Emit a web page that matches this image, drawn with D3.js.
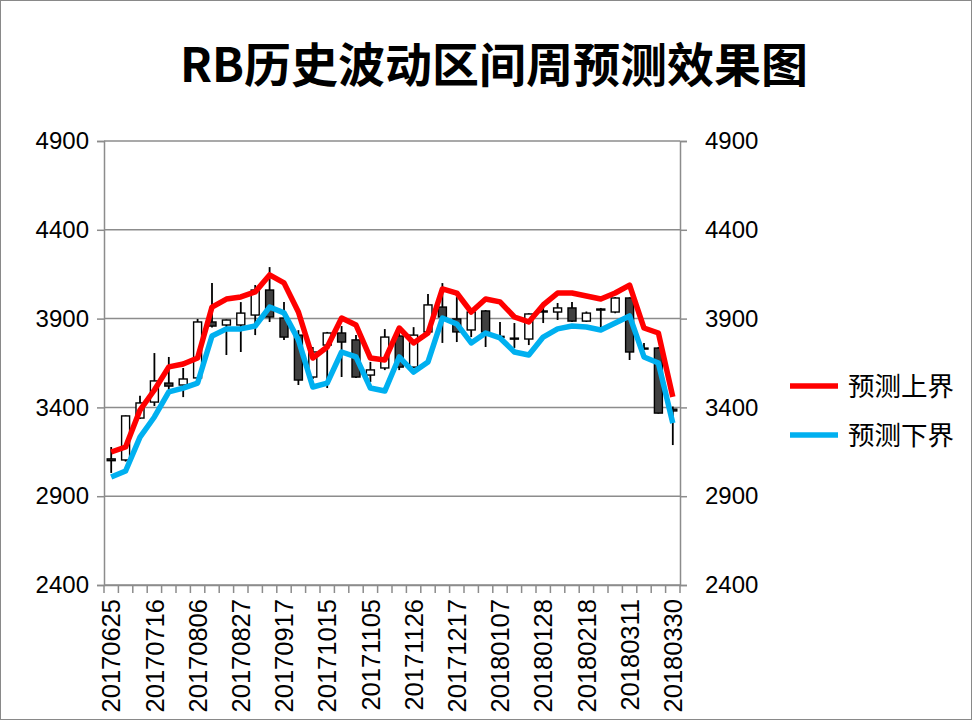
<!DOCTYPE html>
<html><head><meta charset="utf-8">
<script src="https://cdn.jsdelivr.net/npm/d3@7/dist/d3.min.js"></script>
<style>body{margin:0;background:#fff}svg{display:block}</style>
</head><body>
<svg id="c" width="973" height="721"></svg>
<script>
const dates = ["20170625","20170702","20170709","20170716","20170723","20170730","20170806","20170813","20170820","20170827",
"20170903","20170910","20170917","20170924","20171008","20171015","20171022","20171029","20171105","20171112",
"20171119","20171126","20171203","20171210","20171217","20171224","20171231","20180107","20180114","20180121",
"20180128","20180204","20180211","20180218","20180225","20180304","20180311","20180318","20180325","20180330"];
const openV  = [3110,3104,3340,3430,3537,3526,3566,3881,3864,3864,3920,4061,3903,3807,3571,3751,3819,3780,3582,3622,3802,3627,3825,3965,3898,3836,3943,3800,3790,3785,3943,3937,3960,3886,3954,3937,4016,3734,3734,3390];
const highV  = [3177,3355,3465,3706,3684,3622,3898,4100,3895,3993,4089,4190,3993,3835,3740,3825,3858,3807,3656,3841,3858,3852,4038,4100,4021,3945,3948,3881,3875,3930,3993,3988,3993,3940,3960,4021,4020,3763,3740,3405];
const lowV   = [3031,3095,3335,3408,3470,3458,3560,3850,3695,3712,3807,3881,3780,3526,3560,3509,3571,3566,3543,3610,3610,3622,3820,3763,3768,3796,3740,3790,3735,3751,3875,3892,3881,3881,3852,3930,3667,3723,3365,3188];
const closeV = [3100,3352,3425,3549,3520,3560,3881,3858,3892,3931,4061,3909,3796,3554,3712,3819,3768,3571,3611,3796,3627,3807,3977,3909,3825,3937,3825,3796,3785,3926,3937,3960,3886,3931,3948,4016,3712,3730,3368,3380];
const upperV = [3149,3177,3385,3498,3628,3644,3678,3965,4010,4022,4050,4146,4101,3937,3678,3740,3903,3864,3678,3667,3847,3763,3819,4067,4044,3937,4010,3994,3909,3881,3977,4044,4044,4027,4010,4044,4089,3847,3819,3459];
const lowerV = [3008,3042,3233,3346,3487,3509,3537,3802,3842,3842,3858,3965,3932,3780,3515,3537,3712,3684,3509,3492,3684,3599,3656,3903,3870,3763,3819,3791,3712,3695,3796,3842,3858,3853,3836,3875,3915,3684,3650,3312];
const yTicks = [2400,2900,3400,3900,4400,4900];
const title = "RB历史波动区间周预测效果图";
const legendNames = ["预测上界","预测下界"];
const colors = ["#FF0000","#00B0F0"];

const svg = d3.select("#c");
const L=104,R=680,T=141,B=585;
svg.append("rect").attr("x",0.5).attr("y",0.5).attr("width",971).attr("height",719).attr("fill","#fff").attr("stroke","#898989");

const x = d3.scaleBand().domain(dates).range([L,R]).paddingInner(0).paddingOuter(0);
const y = d3.scaleLinear().domain([2400,4900]).range([B,T]);
const cx = d => x(d)+x.bandwidth()/2;
const gridCol = "#8c8c8c";

// gridlines
svg.append("g").selectAll("line").data(yTicks).join("line")
  .attr("x1",L).attr("x2",R).attr("y1",d=>y(d)).attr("y2",d=>y(d))
  .attr("stroke",gridCol).attr("stroke-width",1.5);

// axes
const font = "'Liberation Sans', Arial, sans-serif";
const yl = d3.axisLeft(y).tickValues(yTicks).tickSize(7).tickPadding(8).tickFormat(d3.format("d"));
const gl = svg.append("g").attr("transform",`translate(${L},0)`).call(yl);
const yr = d3.axisRight(y).tickValues(yTicks).tickSize(7).tickPadding(18).tickFormat(d3.format("d"));
const gr = svg.append("g").attr("transform",`translate(${R},0)`).call(yr);
const xa = d3.axisBottom(x).tickValues(dates.filter((d,i)=>i%3===0)).tickSize(0).tickFormat(d=>d);
const gx = svg.append("g").attr("transform",`translate(0,${B})`).call(xa);
[gl,gr,gx].forEach(g=>{
  g.select(".domain").attr("stroke",gridCol).attr("stroke-width",1.5);
  g.selectAll(".tick line").attr("stroke",gridCol).attr("stroke-width",1.5);
  g.selectAll("text").attr("font-family",font).attr("font-size",24).attr("fill","#000");
});
gx.selectAll(".tick text").attr("font-size",25.5).attr("transform","rotate(-90)").attr("text-anchor","end")
  .attr("x",-14).attr("y",0).attr("dy","0.36em");
// x tick marks at category boundaries
const bounds = dates.map(d=>x(d)).concat([R]);
svg.append("g").selectAll("line").data(bounds).join("line")
  .attr("x1",d=>d).attr("x2",d=>d).attr("y1",B).attr("y2",B+8)
  .attr("stroke",gridCol).attr("stroke-width",1.5);

// candles
const cw = 8;
const cg = svg.append("g");
dates.forEach((d,i)=>{
  const c = cx(d);
  cg.append("line").attr("x1",c).attr("x2",c).attr("y1",y(highV[i])).attr("y2",y(lowV[i]))
    .attr("stroke","#000").attr("stroke-width",1.8);
  const top = y(Math.max(openV[i],closeV[i])), bot = y(Math.min(openV[i],closeV[i]));
  cg.append("rect").attr("x",c-cw/2).attr("y",top).attr("width",cw).attr("height",Math.max(1,bot-top))
    .attr("fill", closeV[i]>=openV[i] ? "#fff" : "#404040").attr("stroke","#000").attr("stroke-width",1.4);
});

// lines
const line = d3.line().x((v,i)=>cx(dates[i])).y(v=>y(v));
[upperV,lowerV].forEach((s,k)=>{
  svg.append("path").datum(s).attr("d",line).attr("fill","none")
    .attr("stroke",colors[k]).attr("stroke-width",5.5).attr("stroke-linejoin","round");
});

// title
svg.append("text").attr("x",494).attr("y",82).attr("text-anchor","middle")
  .attr("font-family","'Noto Sans CJK SC', sans-serif").attr("font-weight","bold").attr("font-size",47)
  .text(title);

// legend
legendNames.forEach((n,k)=>{
  const ly = 386 + k*49;
  svg.append("line").attr("x1",790).attr("x2",838).attr("y1",ly).attr("y2",ly)
    .attr("stroke",colors[k]).attr("stroke-width",5.5);
  svg.append("text").attr("x",848).attr("y",ly).attr("dy","0.36em")
    .attr("font-family","'Noto Sans CJK SC', sans-serif").attr("font-size",26.5).text(n);
});
</script>
</body></html>
